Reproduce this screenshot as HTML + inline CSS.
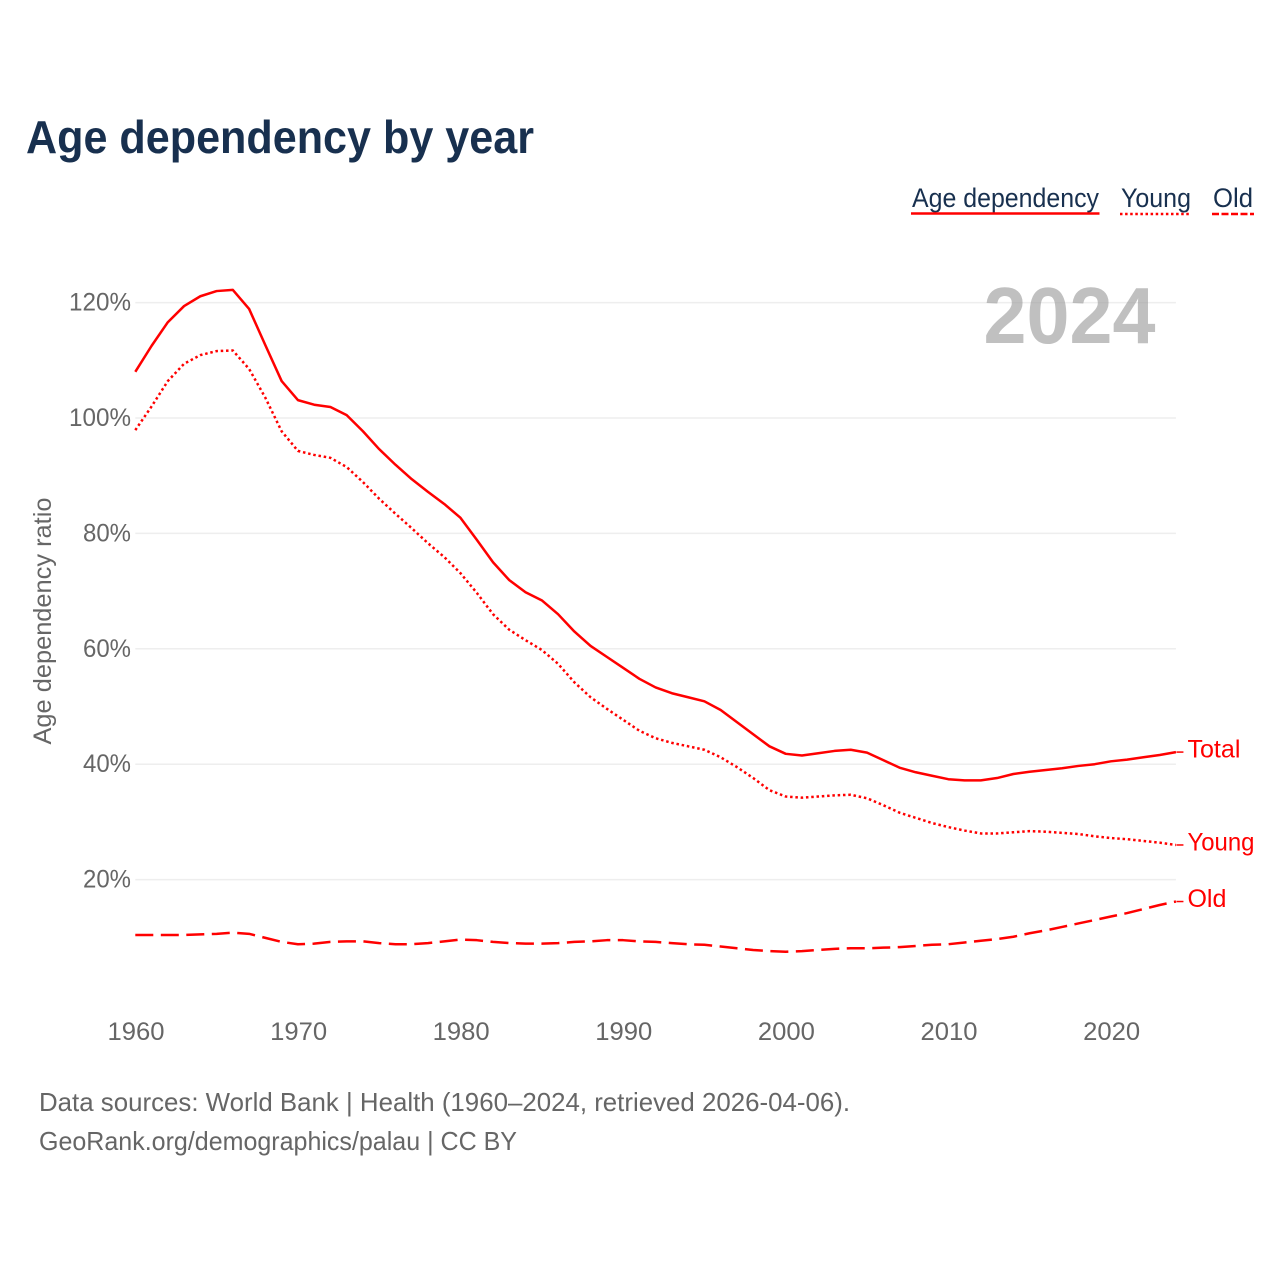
<!DOCTYPE html>
<html lang="en">
<head>
<meta charset="utf-8">
<title>Age dependency by year</title>
<style>
html,body{margin:0;padding:0;background:#fff;width:1280px;height:1280px;overflow:hidden}
svg{display:block}
text{font-family:"Liberation Sans",sans-serif}
</style>
</head>
<body>
<svg id="chart" width="1280" height="1280" viewBox="0 0 1280 1280" xmlns="http://www.w3.org/2000/svg">
  <text x="26" y="153" font-size="46" font-weight="700" fill="#18304f" textLength="508" lengthAdjust="spacingAndGlyphs">Age dependency by year</text>

  <g>
    <g>
      <text x="912" y="207" font-size="26.5" fill="#18304f" textLength="187" lengthAdjust="spacingAndGlyphs">Age dependency</text>
      <line x1="911" x2="1099.5" y1="213.5" y2="213.5" stroke="#ff0000" stroke-width="2.5"/>
    </g>
    <g>
      <text x="1121" y="207" font-size="26.5" fill="#18304f" textLength="70" lengthAdjust="spacingAndGlyphs">Young</text>
      <line x1="1120" x2="1190" y1="214" y2="214" stroke="#ff0000" stroke-width="2.5" stroke-dasharray="2.5,2.6"/>
    </g>
    <g>
      <text x="1213" y="207" font-size="26.5" fill="#18304f" textLength="40" lengthAdjust="spacingAndGlyphs">Old</text>
      <line x1="1212" x2="1254" y1="214" y2="214" stroke="#ff0000" stroke-width="2.5" stroke-dasharray="7,2.5"/>
    </g>
  </g>

  <g id="grid"></g>
  <g id="yticks"></g>
  <g id="xticks"></g>

  <text transform="translate(51,621) rotate(-90)" text-anchor="middle" font-size="25" fill="#666666" textLength="247" lengthAdjust="spacingAndGlyphs">Age dependency ratio</text>

  <text x="1155.5" y="343" text-anchor="end" font-size="80" font-weight="700" fill="#999999" fill-opacity="0.62" textLength="172" lengthAdjust="spacingAndGlyphs">2024</text>

  <g id="series"></g>

  <text x="39" y="1111" font-size="26" fill="#666666" textLength="811" lengthAdjust="spacingAndGlyphs">Data sources: World Bank | Health (1960–2024, retrieved 2026-04-06).</text>
  <text x="39" y="1150" font-size="26" fill="#666666" textLength="478" lengthAdjust="spacingAndGlyphs">GeoRank.org/demographics/palau | CC BY</text>
</svg>
<script>
const startYear = 1960;
const xTickYears = [1960, 1970, 1980, 1990, 2000, 2010, 2020];
const yTickValues = [20, 40, 60, 80, 100, 120];
const seriesLabels = ['Total', 'Young', 'Old'];
const totalValues = [108, 112.5, 116.6, 119.4, 121.1, 122, 122.2, 118.9, 112.6, 106.4,
  103.1, 102.3, 101.9, 100.5, 97.7, 94.6, 91.9, 89.4, 87.2, 85.1,
  82.7, 78.9, 75, 71.9, 69.8, 68.4, 66, 63, 60.5, 58.6,
  56.7, 54.8, 53.3, 52.3, 51.6, 50.9, 49.4, 47.3, 45.2, 43.1,
  41.8, 41.5, 41.9, 42.3, 42.5, 42, 40.7, 39.4, 38.6, 38,
  37.4, 37.2, 37.2, 37.6, 38.3, 38.7, 39, 39.3, 39.7, 40,
  40.5, 40.8, 41.2, 41.6, 42.1];
const youngValues = [97.9, 102, 106.4, 109.4, 110.9, 111.6, 111.7, 108.5, 103.5, 97.7,
  94.3, 93.6, 93.1, 91.5, 88.9, 86, 83.4, 80.9, 78.3, 75.9,
  73.1, 69.7, 66, 63.3, 61.5, 59.8, 57.4, 54.2, 51.6, 49.6,
  47.7, 45.8, 44.5, 43.7, 43.1, 42.5, 41.2, 39.5, 37.6, 35.5,
  34.4, 34.2, 34.4, 34.6, 34.7, 34.1, 32.9, 31.6, 30.7, 29.8,
  29.1, 28.5, 28, 28, 28.2, 28.4, 28.3, 28.1, 27.9, 27.5,
  27.2, 27, 26.7, 26.4, 26];
const oldValues = [10.4, 10.4, 10.4, 10.4, 10.5, 10.6, 10.8, 10.6, 9.9, 9.2,
  8.8, 8.9, 9.2, 9.3, 9.3, 9, 8.8, 8.8, 9, 9.3,
  9.6, 9.5, 9.2, 9, 8.9, 8.9, 9, 9.2, 9.3, 9.5,
  9.5, 9.3, 9.2, 9, 8.8, 8.7, 8.4, 8.1, 7.8, 7.6,
  7.5, 7.6, 7.8, 8, 8.1, 8.1, 8.2, 8.3, 8.5, 8.7,
  8.8, 9.1, 9.4, 9.7, 10.1, 10.7, 11.2, 11.8, 12.4, 13,
  13.6, 14.2, 14.9, 15.6, 16.2];

const NS = 'http://www.w3.org/2000/svg';
const xScale = function (year) { return 135.3 + (year - 1960) * 16.26; };
const yScale = function (value) { return 995 - value * 5.77; };

function make(tag, parent) {
  const el = document.createElementNS(NS, tag);
  parent.appendChild(el);
  return el;
}

const gridGroup = document.getElementById('grid');
const yTickGroup = document.getElementById('yticks');
const xTickGroup = document.getElementById('xticks');
const seriesGroup = document.getElementById('series');

yTickValues.forEach(function (v) {
  const line = make('line', gridGroup);
  
  
  line.setAttribute('x1', xScale(1960));
  line.setAttribute('x2', xScale(2024));
  line.setAttribute('y1', yScale(v));
  line.setAttribute('y2', yScale(v));
  line.setAttribute('stroke', '#eeeeee');
  line.setAttribute('stroke-width', '1.5');

  const label = make('text', yTickGroup);
  
  
  label.setAttribute('x', 131);
  label.setAttribute('y', yScale(v) + 8);
  label.setAttribute('text-anchor', 'end');
  label.setAttribute('font-size', '25');
  label.setAttribute('fill', '#666666');
  label.setAttribute('textLength', v >= 100 ? 62 : 48);
  label.setAttribute('lengthAdjust', 'spacingAndGlyphs');
  label.textContent = v + '%';
});

xTickYears.forEach(function (year) {
  const label = make('text', xTickGroup);
  
  
  label.setAttribute('x', xScale(year) + 0.7);
  label.setAttribute('y', 1040);
  label.setAttribute('text-anchor', 'middle');
  label.setAttribute('font-size', '25');
  label.setAttribute('fill', '#666666');
  label.setAttribute('textLength', 57);
  label.setAttribute('lengthAdjust', 'spacingAndGlyphs');
  label.textContent = String(year);
});

function drawSeries(values, dash, name, labelText, labelWidth) {
  const path = make('path', seriesGroup);
  
  
  path.setAttribute('d', values.map(function (v, i) {
    return (i ? 'L' : 'M') + xScale(startYear + i) + ' ' + yScale(v);
  }).join(' '));
  path.setAttribute('fill', 'none');
  path.setAttribute('stroke', '#ff0000');
  path.setAttribute('stroke-width', '2.5');
  path.setAttribute('stroke-linejoin', 'round');
  if (dash) path.setAttribute('stroke-dasharray', dash);

  const last = values[values.length - 1];
  const endX = xScale(startYear + values.length - 1);

  const connector = make('line', seriesGroup);
  
  
  connector.setAttribute('x1', endX + 0.5);
  connector.setAttribute('x2', endX + 7.5);
  connector.setAttribute('y1', yScale(last));
  connector.setAttribute('y2', yScale(last));
  connector.setAttribute('stroke', '#ff0000');
  connector.setAttribute('stroke-width', '1.5');

  const label = make('text', seriesGroup);
  
  
  label.setAttribute('x', endX + 11.5);
  label.setAttribute('y', yScale(last) + 5.5);
  label.setAttribute('font-size', '25');
  label.setAttribute('fill', '#ff0000');
  label.setAttribute('textLength', labelWidth);
  label.setAttribute('lengthAdjust', 'spacingAndGlyphs');
  label.textContent = labelText;
}

drawSeries(totalValues, null, 'total', seriesLabels[0], 53);
drawSeries(youngValues, '2.5,2.8', 'young', seriesLabels[1], 67);
drawSeries(oldValues, '18,7.5', 'old', seriesLabels[2], 39);
</script>
</body>
</html>
